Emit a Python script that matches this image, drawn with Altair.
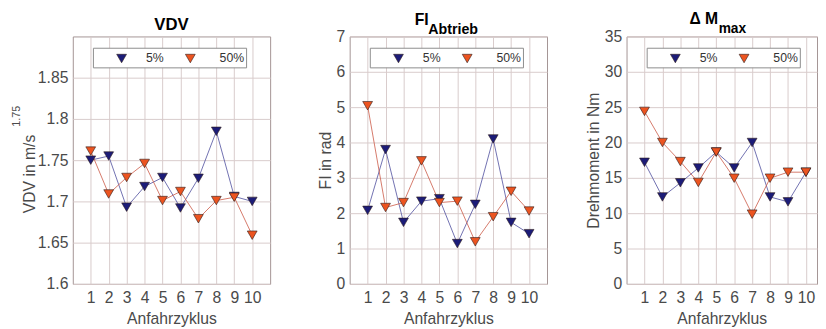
import altair as alt
import pandas as pd

CYCLES = list(range(1, 11))
SERIES = ["5%", "50%"]
COLORS = ["#1c1c78", "#ec5420"]
LINE_COLORS = ["#4f4f9e", "#cc5a48"]

VDV_5 = [1.750, 1.755, 1.693, 1.718, 1.729, 1.692, 1.728, 1.785, 1.706, 1.700]
VDV_50 = [1.761, 1.709, 1.729, 1.746, 1.701, 1.712, 1.679, 1.701, 1.705, 1.659]
FI_5 = [2.08, 3.80, 1.74, 2.34, 2.41, 1.14, 2.25, 4.10, 1.74, 1.42]
FI_50 = [5.04, 2.16, 2.30, 3.48, 2.30, 2.34, 1.19, 1.90, 2.62, 2.06]
DM_5 = [17.2, 12.3, 14.3, 16.4, 18.65, 16.4, 20.0, 12.3, 11.6, 15.8]
DM_50 = [24.4, 20.0, 17.3, 14.35, 18.65, 14.95, 9.86, 14.95, 15.8, 15.8]

VDV_TICKS = [1.6, 1.65, 1.7, 1.75, 1.8, 1.85]
FI_TICKS = [0, 1, 2, 3, 4, 5, 6, 7]
DM_TICKS = [0, 5, 10, 15, 20, 25, 30, 35]

X_TITLE = "Anfahrzyklus"
FONT = "Liberation Sans"
TXT = "#4a4a4a"
EDGE = "#2a1a1a"
H = 252


def text_piece(s, x, y, size, bold=True, align="center", angle=0, color="#000000"):
    kw = dict(font=FONT, fontSize=size, fontWeight="bold" if bold else "normal",
              align=align, baseline="alphabetic" if angle == 0 else "middle", color=color)
    if angle:
        kw["angle"] = angle
    return alt.Chart(pd.DataFrame({"t": [s]})).mark_text(**kw).encode(
        text="t:N", x=alt.value(x), y=alt.value(y))


def legend_layers():
    layers = [alt.Chart(pd.DataFrame({"s": SERIES[:1]})).mark_rect(
        fill="white", stroke="#8c8c8c", strokeWidth=1).encode(
        x=alt.value(21), x2=alt.value(177), y=alt.value(12), y2=alt.value(32))]
    for i, (s, c) in enumerate(zip(SERIES, COLORS)):
        d = pd.DataFrame({"s": [s]})
        layers.append(alt.Chart(d).mark_point(
            shape="triangle-down", filled=True, size=100, opacity=1, fill=c,
            stroke=EDGE, strokeWidth=0.6).encode(x=alt.value(49.7 + 70 * i), y=alt.value(22.5)))
        layers.append(alt.Chart(d).mark_text(
            font=FONT, fontSize=12.5, color="#333333", align="left", baseline="middle").encode(
            text="s:N", x=alt.value(74.5 + 75 * i), y=alt.value(22.5)))
    return layers


def panel(v5, v50, ydom, yticks, ytitle, width, xmax, extras):
    df = pd.DataFrame({
        "cycle": CYCLES * 2,
        "series": [SERIES[0]] * len(CYCLES) + [SERIES[1]] * len(CYCLES),
        "value": v5 + v50,
    })
    x = alt.X("cycle:Q", scale=alt.Scale(domain=[0, xmax], nice=False, zero=False),
              axis=alt.Axis(values=CYCLES, title=X_TITLE))
    y = alt.Y("value:Q", scale=alt.Scale(domain=ydom, nice=False, zero=False),
              axis=alt.Axis(values=yticks, format="~g", title=ytitle))
    base = alt.Chart(df)
    lines = base.mark_line(strokeWidth=0.9, opacity=0.9).encode(
        x=x, y=y, stroke=alt.Stroke("series:N", scale=alt.Scale(domain=SERIES, range=LINE_COLORS), legend=None))
    pts = base.mark_point(shape="triangle-down", filled=True, size=100, opacity=1,
                          stroke=EDGE, strokeWidth=0.6).encode(
        x=x, y=y, fill=alt.Fill("series:N", scale=alt.Scale(domain=SERIES, range=COLORS), legend=None))
    return alt.layer(lines, pts, *legend_layers(), *extras).properties(width=width, height=H)


p1 = panel(VDV_5, VDV_50, [1.6, 1.9], VDV_TICKS, None, 201, 11, [
    text_piece("VDV", 100.5, -6.3, 17),
    text_piece("VDV in m/s", -44, 180, 16, bold=False, align="left", angle=270, color=TXT),
    text_piece("1.75", -57, 92, 11, bold=False, align="left", angle=270, color=TXT),
])
p2 = panel(FI_5, FI_50, [0, 7], FI_TICKS, "FI in rad", 201, 11, [
    text_piece("FI", 80.5, -11.3, 16, align="right"),
    text_piece("Abtrieb", 80, -3, 14.5, align="left"),
])
p3 = panel(DM_5, DM_50, [0, 35], DM_TICKS, "Drehmoment in Nm", 194, 194 / (201 / 11), [
    text_piece("Δ M", 93.3, -12.5, 16, align="right"),
    text_piece("max", 93.8, -3.7, 14, align="left"),
])

chart = alt.hconcat(p1, p2, p3, spacing=81, bounds="flush").resolve_scale(
    fill="independent", stroke="independent", x="independent", y="independent"
).properties(
    padding={"left": 2, "top": 0, "right": 0, "bottom": 0},
    background="white",
).configure_view(
    stroke="#a39494", strokeWidth=1
).configure_axis(
    gridColor="#d8cbcb", gridOpacity=1, gridWidth=1, domain=False, ticks=False,
    labelFont=FONT, labelFontSize=16, labelColor=TXT,
    titleFont=FONT, titleFontSize=16, titleFontWeight="normal", titleColor=TXT,
).configure_axisX(labelPadding=6, titlePadding=5).configure_axisY(labelPadding=5, titlePadding=3)

chart.save("out.html", embed_options={"renderer": "svg", "actions": False})
